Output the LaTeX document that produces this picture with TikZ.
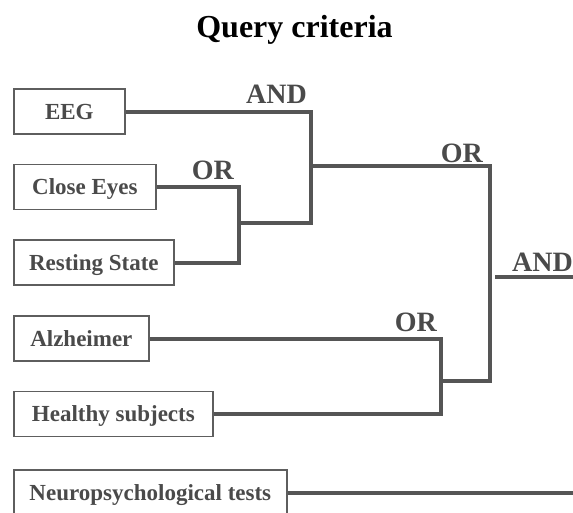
\documentclass[tikz,border=0pt]{standalone}
\usepackage{fontspec}
\setmainfont{Liberation Serif}
\definecolor{linegray}{HTML}{555555}
\definecolor{boxgray}{HTML}{5E5E5E}
\definecolor{textgray}{HTML}{4A4A4A}
\begin{document}
\begin{tikzpicture}[x=1pt,y=-1pt,
  termbox/.style={draw=boxgray, line width=1.7pt, fill=white, anchor=west,
    inner sep=0pt, minimum height=45pt, text=textgray,
    text height=15.2pt, text depth=0pt,
    font=\bfseries\fontsize{23}{27}\selectfont},
  oplabel/.style={anchor=base east, inner sep=0pt, text=textgray,
    font=\bfseries\fontsize{28}{32}\selectfont},
  link/.style={draw=linegray, line width=4pt, line join=miter}]
\useasboundingbox (0,0) rectangle (573,512);

% title
\node[anchor=base, inner sep=0pt, font=\bfseries\fontsize{32}{36}\selectfont]
  (title) at (294.5,37) {Query criteria};

% search terms
\node[termbox, minimum width=111pt] (eeg)     at (13,111.5) {EEG};
\node[termbox, minimum width=142pt] (close)   at (13,187)   {Close Eyes};
\node[termbox, minimum width=160pt] (rest)    at (13,262.5) {Resting State};
\node[termbox, minimum width=135pt] (alz)     at (13,338.5) {Alzheimer};
\node[termbox, minimum width=199pt] (healthy) at (13,414)   {Healthy subjects};
\node[termbox, minimum width=273pt, minimum height=46pt] (neuro) at (13,493) {Neuropsychological tests};

% junction points of the tree
\coordinate (orA)  at (239,223);
\coordinate (andA) at (311,166);
\coordinate (orC)  at (490,277);
\coordinate (orB)  at (441,381);
\coordinate (outA) at (495,277);
\coordinate (outB) at (573,277);
\coordinate (neuroEnd) at (573,493);

% connectors
\draw[link] (close.east) -| (orA) |- (rest.east);
\draw[link] (eeg.east) -| (andA) |- (orA);
\draw[link] (andA) -| (orC) |- (orB);
\draw[link] (alz.east) -| (orB) |- (healthy.east);
\draw[link] (outA) -- (outB);
\draw[link] (neuro.east) -- (neuroEnd);

% operator labels
\node[oplabel] (lblAndA) at (307,103) {AND};
\node[oplabel] (lblOrA)  at (234,179) {OR};
\node[oplabel] (lblOrC)  at (483,162) {OR};
\node[oplabel] (lblOrB)  at (437,331) {OR};
\node[oplabel] (lblAndB) at (573,271) {AND};
\end{tikzpicture}
\end{document}
